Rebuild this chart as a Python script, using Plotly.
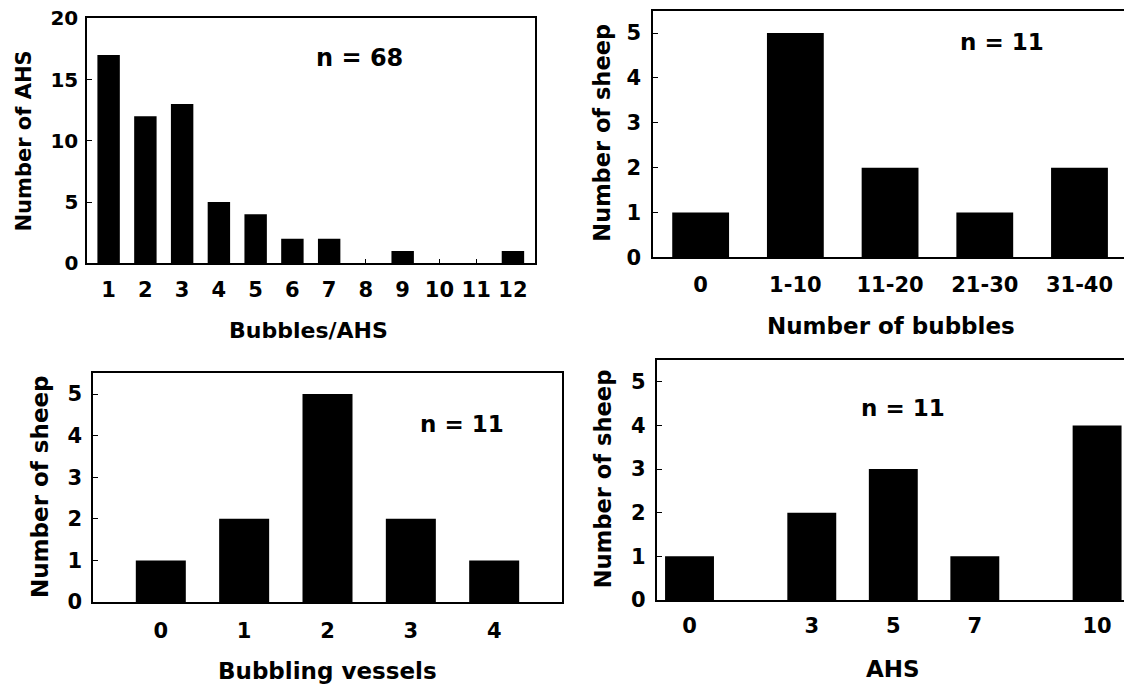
import plotly.graph_objects as go

# ---------------- data ----------------
p1_categories = ["1", "2", "3", "4", "5", "6", "7", "8", "9", "10", "11", "12"]
p1_values = [17, 12, 13, 5, 4, 2, 2, 0, 1, 0, 0, 1]
p1_yticks = [0, 5, 10, 15, 20]

p2_categories = ["0", "1-10", "11-20", "21-30", "31-40"]
p2_values = [1, 5, 2, 1, 2]

p3_categories = ["0", "1", "2", "3", "4"]
p3_values = [1, 2, 5, 2, 1]

p4_ahs = [0, 3, 5, 7, 10]
p4_values = [1, 2, 3, 1, 4]

sheep_yticks = [0, 1, 2, 3, 4, 5]

# ---------------- helpers ----------------
W, H = 1124, 685
FONT = "DejaVu Sans"


def fx(px):
    return px / W


def fy(py):
    return 1 - py / H


def tfont(size):
    return dict(family=FONT, size=size, color="black", weight="bold")


def xaxis_common(size, standoff):
    return dict(showline=True, linecolor="black", linewidth=2, mirror=True,
                ticks="inside", ticklen=4, tickwidth=1, tickcolor="black",
                tickfont=tfont(size), showgrid=False, zeroline=False,
                ticklabelstandoff=standoff, fixedrange=True, automargin=False)


def yaxis_common(size, mirror, standoff):
    return dict(showline=True, linecolor="black", linewidth=2, mirror=mirror,
                ticks="inside", ticklen=5, tickwidth=1, tickcolor="black",
                tickfont=tfont(size), showgrid=False, zeroline=False,
                ticklabelstandoff=standoff, fixedrange=True, automargin=False)


fig = go.Figure()
bar_style = dict(marker=dict(color="black", line=dict(width=0)), showlegend=False,
                 hoverinfo="x+y")

fig.add_trace(go.Bar(x=p1_categories, y=p1_values, width=0.61, xaxis="x", yaxis="y", **bar_style))
fig.add_trace(go.Bar(x=p2_categories, y=p2_values, width=0.6, xaxis="x2", yaxis="y2", **bar_style))
fig.add_trace(go.Bar(x=p3_categories, y=p3_values, width=0.6, xaxis="x3", yaxis="y3", **bar_style))
fig.add_trace(go.Bar(x=p4_ahs, y=p4_values, width=1.2, xaxis="x4", yaxis="y4", **bar_style))

layout = dict(
    template="none",
    width=W, height=H, autosize=False,
    margin=dict(l=0, r=0, t=0, b=0, pad=0),
    paper_bgcolor="white", plot_bgcolor="white",
    font=dict(family=FONT, color="black"),
    showlegend=False,
    xaxis=dict(domain=[fx(87.3), fx(535)], anchor="y", type="category",
               range=[-0.58, 11.6], **xaxis_common(21, 6)),
    yaxis=dict(domain=[fy(263.3), fy(18.3)], anchor="x", range=[0, 20],
               tickvals=p1_yticks, **yaxis_common(20, True, 3)),
    xaxis2=dict(domain=[fx(653.3), 1.0], anchor="y2", type="category",
                range=[-0.5, 4.47], **xaxis_common(21, 7)),
    yaxis2=dict(domain=[fy(257.3), fy(10.7)], anchor="x2", range=[0, 5.5],
                tickvals=sheep_yticks, **yaxis_common(21, False, 6)),
    xaxis3=dict(domain=[fx(93.3), fx(561.7)], anchor="y3", type="category",
                range=[-0.81, 4.81], **xaxis_common(21, 9)),
    yaxis3=dict(domain=[fy(602), fy(373.3)], anchor="x3", range=[0, 5.5],
                tickvals=sheep_yticks, **yaxis_common(21, True, 5)),
    xaxis4=dict(domain=[fx(656.7), 1.0], anchor="y4", range=[-0.805, 10.66],
                tickvals=p4_ahs, **xaxis_common(21, 6)),
    yaxis4=dict(domain=[fy(600), fy(360)], anchor="x4", range=[0, 5.5],
                tickvals=sheep_yticks, **yaxis_common(21, False, 5)),
)
fig.update_layout(**layout)


def label(text, x, y, size, angle=0):
    fig.add_annotation(text=text, x=fx(x), y=fy(y), xref="paper", yref="paper",
                       showarrow=False, textangle=angle, xanchor="center", yanchor="middle",
                       font=dict(family=FONT, size=size, color="black", weight="bold"))


# panel 1
label("Number of AHS", 23.5, 141, 21, -90)
label("Bubbles/AHS", 308, 330, 22)
label("n = 68", 359, 58, 24)
# panel 2
label("Number of sheep", 601.7, 133, 22.5, -90)
label("Number of bubbles", 890.8, 326, 23)
label("n = 11", 1001.7, 42, 23)
# panel 3
label("Number of sheep", 40, 487, 23, -90)
label("Bubbling vessels", 327.5, 671, 23)
label("n = 11", 462, 424, 23)
# panel 4
label("Number of sheep", 603.3, 479, 22.6, -90)
label("AHS", 893.3, 669, 23)
label("n = 11", 903.3, 408, 23)

fig.write_html("out.html")
